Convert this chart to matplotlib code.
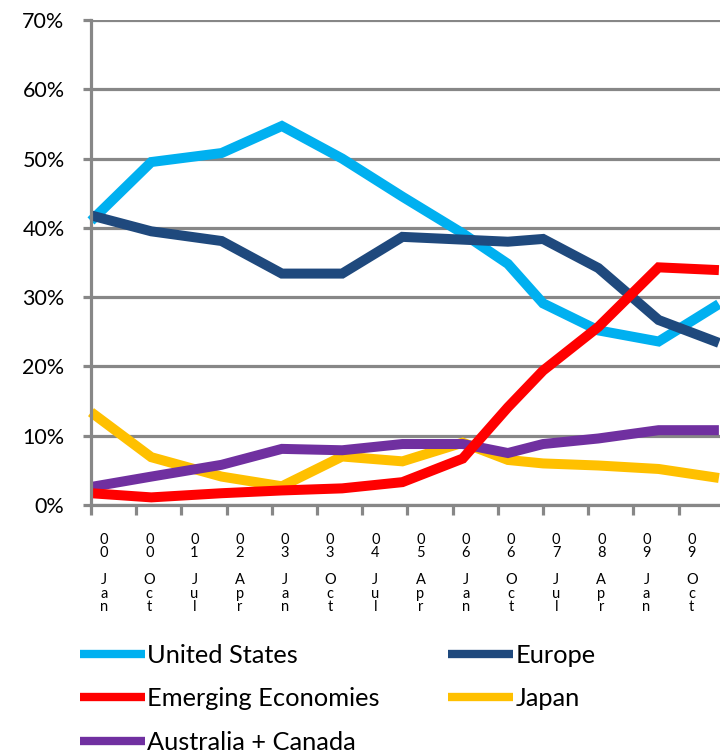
import matplotlib.pyplot as plt
import numpy as np

plt.rcParams['font.family'] = ['Lato', 'DejaVu Sans']

# months since start of series
months = [0, 12, 26, 38, 50, 62, 74, 83, 90, 101, 113, 125]

us = [41.0, 49.5, 50.8, 54.7, 50.0, 44.5, 39.2, 34.8, 29.1, 25.2, 23.6, 29.0]
europe = [41.8, 39.5, 38.1, 33.4, 33.4, 38.7, 38.3, 38.0, 38.4, 34.2, 26.7, 23.4]
emerging = [1.7, 1.1, 1.7, 2.1, 2.4, 3.3, 6.7, 14.1, 19.4, 25.7, 34.3, 33.9]
japan = [13.4, 6.9, 4.1, 2.7, 7.0, 6.3, 9.0, 6.5, 6.0, 5.7, 5.2, 3.9]
aus_can = [2.6, 4.1, 5.8, 8.1, 7.9, 8.8, 8.8, 7.5, 8.8, 9.6, 10.8, 10.8]

# tick every 9 months, labels stacked vertically like in the source
tick_years = ['00', '00', '01', '02', '03', '03', '04', '05', '06', '06', '07', '08', '09', '09']
tick_months = ['Jan', 'Oct', 'Jul', 'Apr'] * 4

series = [
    ('United States', us, '#00B0F0'),
    ('Europe', europe, '#1F497D'),
    ('Japan', japan, '#FFC000'),
    ('Australia + Canada', aus_can, '#7030A0'),
    ('Emerging Economies', emerging, '#FF0000'),
]

fig = plt.figure(figsize=(7.2, 7.54), dpi=100)
ax = fig.add_axes([91 / 720, 249 / 754, 653 / 720, 485 / 754])

lines = {}
for name, vals, col in series:
    ln, = ax.plot(months, vals, color=col, linewidth=7.2, solid_joinstyle='miter',
                  solid_capstyle='butt', label=name, clip_on=False)
    lines[name] = ln

ax.set_xlim(0, 130)
ax.set_ylim(0, 70)

grid_col = '#878787'
ax.set_yticks(np.arange(0, 71, 10))
ax.set_yticklabels([f'{v}%' for v in range(0, 71, 10)], fontsize=15.5)
ax.yaxis.grid(True, color=grid_col, linewidth=2.3)
ax.set_axisbelow(True)

major = np.arange(0, 130, 9)
ax.set_xticks(major)
ax.set_xticklabels([''] * len(major))
lab_pos = major[:len(tick_years)] + 2.6
ax.set_xticks(lab_pos, minor=True)
labels = ['\n'.join(y) + '\n\n' + '\n'.join(m) for y, m in zip(tick_years, tick_months)]
ax.set_xticklabels(labels, minor=True, fontsize=10.5, linespacing=0.95, va='top')
ax.tick_params(axis='x', which='minor', length=0, pad=20)
ax.tick_params(axis='x', which='major', length=7, width=2.3, color=grid_col)
ax.tick_params(axis='y', length=6, width=2.3, color=grid_col, pad=13)

for s in ['top', 'right']:
    ax.spines[s].set_visible(False)
for s in ['left', 'bottom']:
    ax.spines[s].set_color(grid_col)
    ax.spines[s].set_linewidth(2.3)

order = ['United States', 'Emerging Economies', 'Australia + Canada', 'Europe', 'Japan']
leg = fig.legend([lines[n] for n in order], order, ncol=2, loc='upper left',
                 bbox_to_anchor=(80 / 720, 1 - 644 / 754), frameon=False, fontsize=18.3,
                 handlelength=2.55, handletextpad=0.1, columnspacing=2.68,
                 labelspacing=0.8, borderaxespad=0, borderpad=0)
for h in leg.get_lines():
    h.set_linewidth(6)

plt.savefig('out.png', dpi=100)
